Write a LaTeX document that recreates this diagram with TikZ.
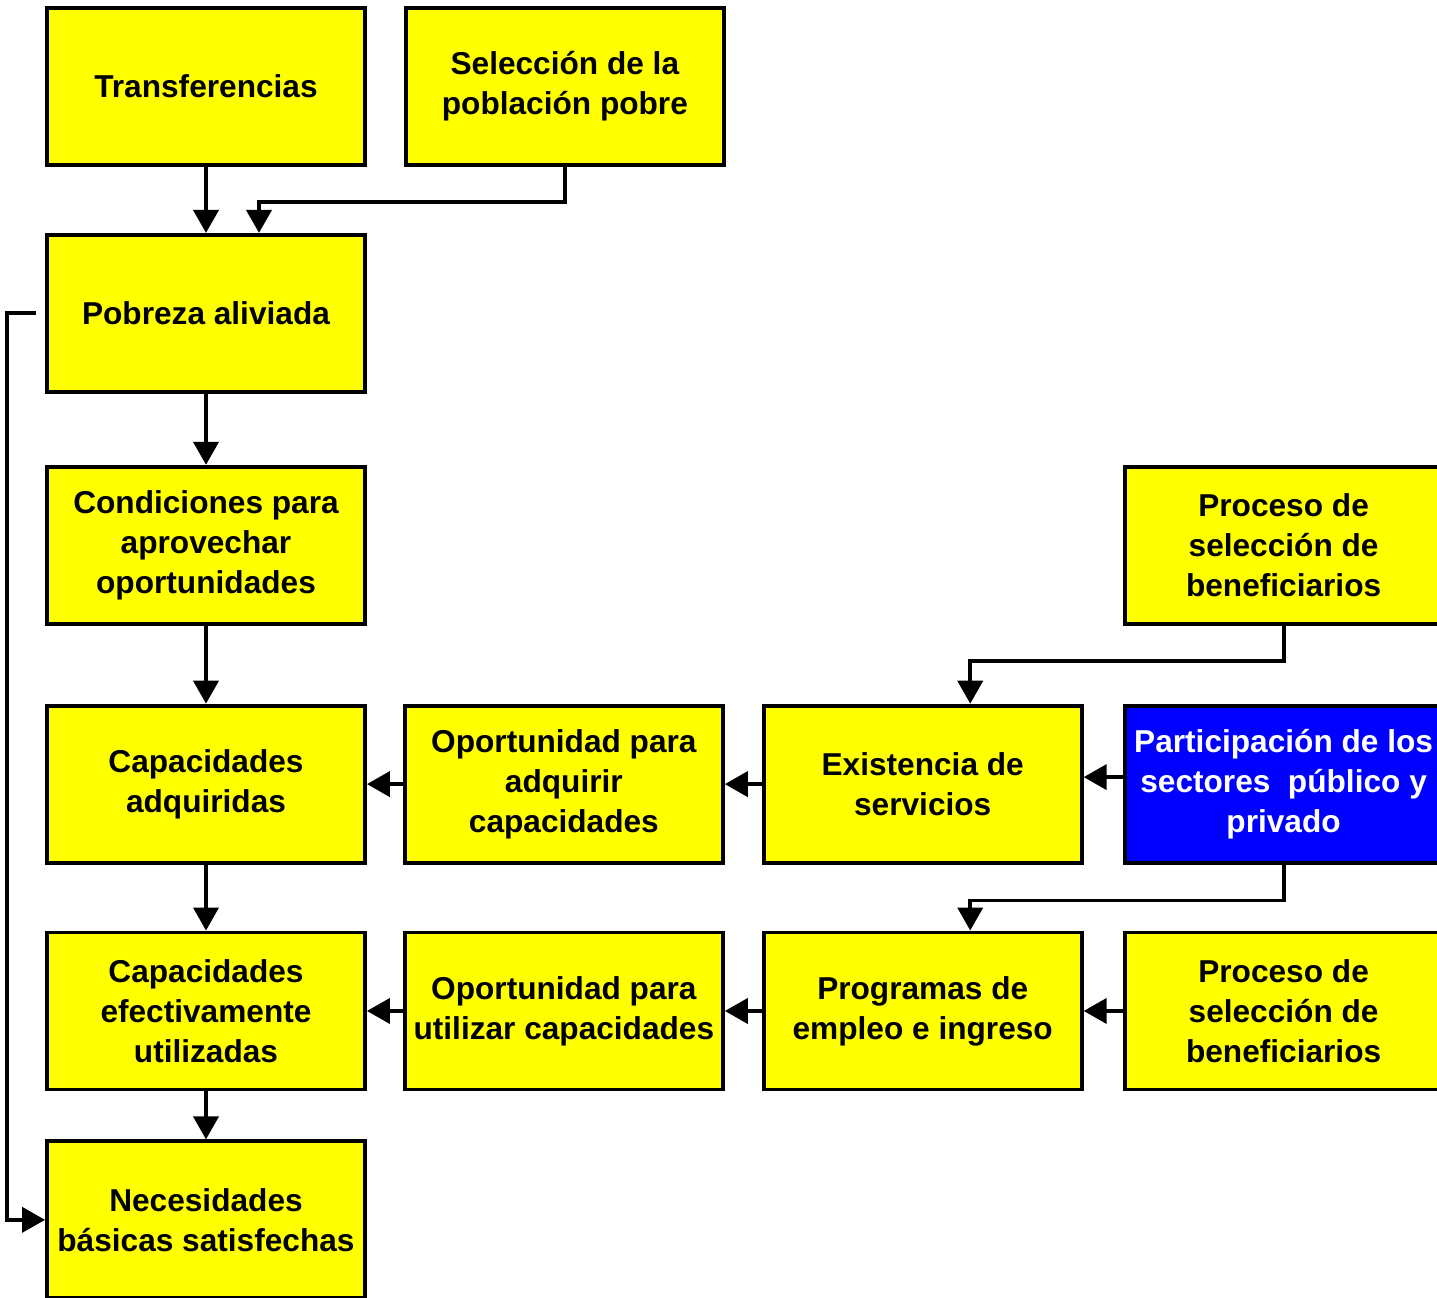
\documentclass[tikz,border=0pt]{standalone}
\usepackage{fontspec}
\setmainfont{Liberation Sans}
\usetikzlibrary{arrows.meta,positioning}
\definecolor{boxyellow}{rgb}{1, 1, 0}
\definecolor{boxblue}{rgb}{0, 0, 1}
\tikzset{
	caja/.style={
		rectangle,
		line width=2.2pt,
		draw=black,
		fill=boxyellow,
		minimum width=6.36cm,
		minimum height=3.14cm,
		inner sep=0pt,
		align=center,
		font=\fontsize{18}{22.8}\selectfont\bfseries
	},
	cajaazul/.style={
		caja,
		fill=boxblue,
		text=white
	},
	flecha/.style={
		draw=black,
		line width=2.2pt,
		-{Triangle[length=0.46cm,width=0.5cm]}
	},
}

\begin{document}
\begin{tikzpicture}[node distance=0.72cm]
	\useasboundingbox (0,0) rectangle (28.74,-25.94);
	\clip (0,0) rectangle (28.74,-25.94);
	\node [caja] (trans) at (4.12,-1.73) {Transferencias};
	\node [caja] (sel) [right=0.74cm of trans] {Selección de la\\población pobre};
	\node [caja] (pob) [below=1.32cm of trans] {Pobreza aliviada};
	\node [caja] (cond) [below=1.42cm of pob] {Condiciones para\\aprovechar\\oportunidades};
	\node [caja] (capa) [below=1.56cm of cond] {Capacidades\\adquiridas};
	\node [caja] (opad) [right=of capa] {Oportunidad para\\adquirir\\capacidades};
	\node [caja] (exis) [right=0.74cm of opad] {Existencia de\\servicios};
	\node [cajaazul] (part) [right=0.78cm of exis] {Participación de los\\sectores\ \ público y\\privado};
	\node [caja] (procA) [above=1.56cm of part] {Proceso de\\selección de\\beneficiarios};
	\node [caja] (cape) [below=1.32cm of capa] {Capacidades\\efectivamente\\utilizadas};
	\node [caja] (opu) [right=of cape] {Oportunidad para\\utilizar capacidades};
	\node [caja] (prog) [right=0.74cm of opu] {Programas de\\empleo e ingreso};
	\node [caja] (procB) [right=0.78cm of prog] {Proceso de\\selección de\\beneficiarios};
	\node [caja] (nec) [below=0.96cm of cape] {Necesidades\\básicas satisfechas};

	\draw [flecha] (trans) -- (pob);
	\draw [flecha] (sel.south) -- ++(0,-0.7) -| ([xshift=1.06cm]pob.north);
	\draw [flecha] (pob) -- (cond);
	\draw [flecha] (cond) -- (capa);
	\draw [flecha] (capa) -- (cape);
	\draw [flecha] (cape) -- (nec);
	\draw [flecha] ([xshift=-0.18cm]pob.west) -- ++(-0.58,0) |- (nec.west);

	\draw [flecha] (opad) -- (capa);
	\draw [flecha] (exis) -- (opad);
	\draw [flecha] ([yshift=0.14cm]part.west) -- ([yshift=0.14cm]exis.east);
	\draw [flecha] (procA.south) -- ++(0,-0.7) -| ([xshift=0.95cm]exis.north);

	\draw [flecha] (opu) -- (cape);
	\draw [flecha] (prog) -- (opu);
	\draw [flecha] (procB) -- (prog);
	\draw [flecha] (part.south) -- ++(0,-0.72) -| ([xshift=0.95cm]prog.north);
\end{tikzpicture}
\end{document}
